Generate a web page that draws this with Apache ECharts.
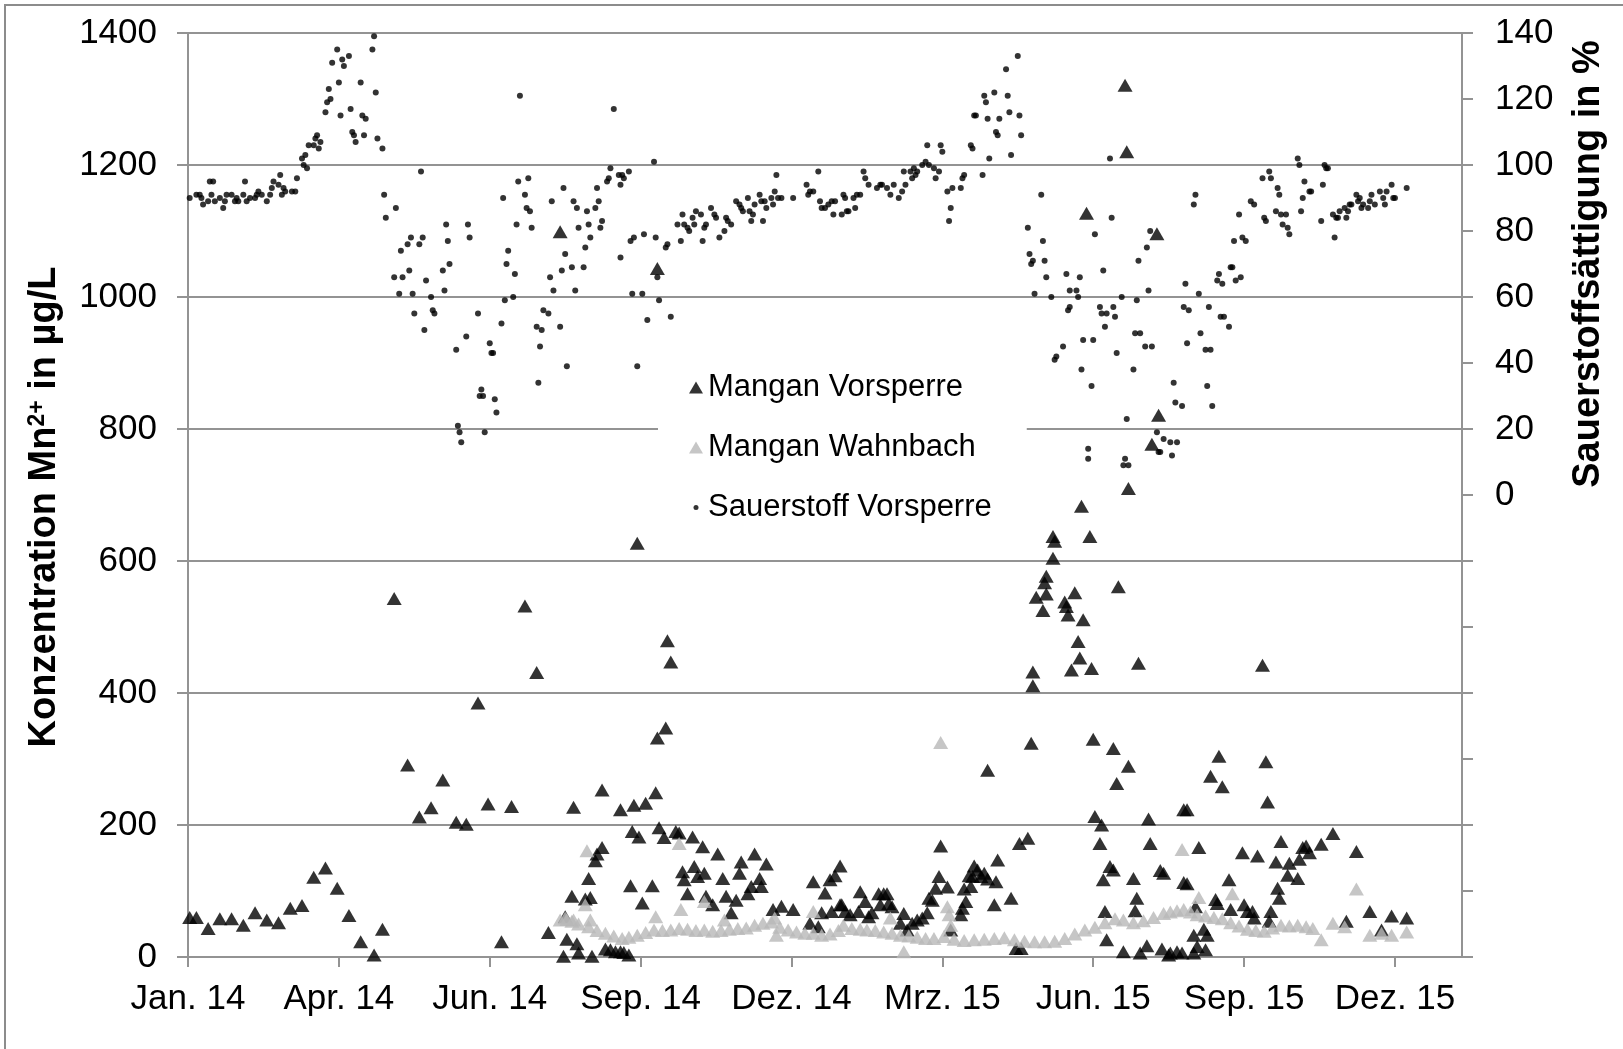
<!DOCTYPE html>
<html>
<head>
<meta http-equiv="Content-Type" content="text/html; charset=UTF-8">
<title>Mangan und Sauerstoff Vorsperre</title>
<script type="text/javascript" src="https://cdn.jsdelivr.net/npm/echarts@6/dist/echarts.min.js"></script>
<style type="text/css">
 html,body{margin:0;padding:0;background:#fff;}
 #mainChart{width:1623px;height:1049px;}
</style>
</head>
<body>
<div id="mainChart"></div>
<script type="text/javascript">
// x-Werte: Tage ab 01.01.2014
var monate = ['Jan.','Feb.','Mrz.','Apr.','Mai','Jun.','Jul.','Aug.','Sep.','Okt.','Nov.','Dez.'];
var xTicks = [0,90,180,270,360,450,540,630,720];

// Mangan Vorsperre [Tag, µg/L]
var mnVorsperre = [
 [1,60],[5,60],[12,43],[19,58],[26,58],[33,48],[40,67],[47,56],[54,52],[61,74],[68,78],[75,121],[82,135],[89,104],[96,63],
 [103,23],[111,3],[116,42],[123,543],[131,291],[138,212],[145,226],[152,268],[160,204],[166,201],[173,385],[179,232],[187,23],[193,228],
 [201,532],[208,431],[215,37],[222,1099],[224,1],[225,61],[226,27],[229,92],[230,227],[232,20],[233,6],[237,88],[239,119],[240,90],
 [241,1],[243,146],[244,156],[247,166],[247,253],[249,12],[252,11],[255,8],[258,8],[258,223],[260,7],[263,3],[264,108],[265,190],
 [266,230],[268,627],[269,182],[271,82],[273,233],[277,108],[279,249],[280,332],[280,1043],[281,196],[284,181],[285,347],[286,479],
 [288,447],[291,190],[293,188],[295,129],[296,117],[298,96],[301,182],[302,137],[304,122],[307,167],[308,127],[309,92],[313,79],
 [316,156],[319,119],[321,92],[324,67],[327,86],[329,127],[330,144],[334,96],[336,107],[338,156],[341,119],[342,107],[345,141],
 [349,72],[354,77],[361,72],[371,51],[373,114],[376,46],[378,67],[380,97],[383,117],[384,69],[386,123],[389,138],[389,79],
 [390,79],[392,69],[395,64],[400,69],[401,99],[404,84],[406,61],[408,67],[412,96],[413,79],[415,96],[417,96],[418,81],[420,76],
 [425,51],[427,66],[429,41],[432,51],[435,56],[438,59],[441,67],[442,89],[444,86],[446,104],[448,122],[449,168],[453,106],[455,41],
 [461,64],[462,74],[463,103],[464,84],[466,123],[467,107],[468,122],[469,138],[471,132],[473,122],[475,127],[477,118],[477,283],
 [481,79],[482,114],[483,147],[491,89],[494,13],[496,172],[497,13],[501,180],[503,324],[504,411],[504,432],[506,545],[510,525],
 [511,567],[512,550],[512,577],[516,604],[516,637],[517,630],[523,538],[524,531],[525,518],[527,435],[529,552],[531,478],[532,453],
 [533,683],[534,511],[536,1127],[538,637],[539,437],[540,330],[541,213],[544,172],[545,200],[546,117],[547,69],[548,26],[550,137],
 [552,132],[552,316],[554,263],[555,561],[558,8],[559,1321],[560,1220],[561,289],[561,710],[564,119],[565,70],[566,89],[567,445],
 [568,6],[572,17],[573,209],[574,172],[575,777],[578,1096],[579,821],[580,131],[581,12],[582,127],[585,3],
 [586,6],[590,8],[593,6],[594,223],[594,113],[596,223],[596,111],[600,6],[600,33],[601,76],[602,16],[603,166],[606,42],[607,11],
 [608,33],[610,274],[613,87],[614,81],[615,304],[617,258],[621,117],[622,72],[629,158],[630,79],[632,69],[635,69],[636,59],[638,153],
 [641,442],[643,296],[644,235],[645,54],[646,69],[649,144],[650,104],[651,89],[652,175],[656,124],[657,142],[662,119],[663,148],
 [665,166],[667,168],[669,158],[676,171],[683,187],[691,54],[697,160],[705,69],[712,41],[718,62],[727,59]
];

// Mangan Wahnbach [Tag, µg/L]
var mnWahnbach = [
 [222,56],[225,59],[226,57],[229,54],[230,56],[233,50],[237,79],[238,161],[239,46],[240,56],[244,40],[249,36],[254,32],[259,28],
 [263,30],[268,33],[273,37],[278,41],[279,61],[283,40],[288,41],[293,43],[293,172],[294,72],[298,42],[303,40],[308,41],[308,84],
 [313,39],[318,40],[320,56],[323,42],[328,43],[333,44],[338,48],[343,51],[348,53],[350,59],[351,33],[353,45],[358,41],[363,38],
 [368,36],[373,36],[373,69],[378,33],[383,35],[388,40],
 [391,48],[396,43],[401,42],[405,41],[410,40],[415,38],[419,59],[420,36],[425,33],[427,8],[430,32],[435,30],[440,28],[445,28],
 [449,325],[451,31],[453,76],[454,64],[455,48],[457,27],[463,25],[469,26],[475,27],[481,28],[487,29],[493,26],[499,24],[505,23],
 [511,23],[517,24],[523,28],[529,35],[535,41],[541,45],[547,52],[553,58],[558,56],[564,52],[570,55],[576,60],[582,66],[586,68],
 [590,70],[593,163],[594,72],[598,68],[602,64],[603,90],[607,62],[612,60],[617,58],[622,52],[623,96],[627,47],[632,42],[637,40],
 [642,39],[647,44],[652,48],[657,47],[662,48],[667,46],[671,43],[676,26],[683,51],[690,46],[697,103],[705,33],[712,36],[718,33],[727,38]
];

// Sauerstoffsättigung Vorsperre [Tag, %]
var o2Vorsperre = [
 [1,90],[5,91],[7,91],[8,90],[9,88],[12,89],[13,95],[14,91],[15,95],[16,89],[19,90],[21,87],[22,89],[23,91],[26,91],[28,89],
 [29,90],[30,89],[33,91],[34,95],[35,89],[37,90],[40,90],[41,91],[42,92],[44,91],[47,89],[49,91],[50,93],[51,95],[54,94],[55,97],
 [56,91],[57,93],[58,92],[62,92],[64,92],[65,96],[68,102],[69,100],[70,103],[71,99],[72,106],[75,106],[76,108],[77,109],[78,105],
 [79,107],[82,116],[83,119],[84,123],[85,120],[86,131],[89,135],[90,125],[91,115],[92,132],[93,130],[96,133],[97,117],[98,110],
 [99,109],[100,107],[103,125],[104,115],[105,109],[106,114],[110,135],[111,139],[112,122],[113,108],[116,105],[117,91],[118,84],
 [123,66],[124,87],[126,61],[127,74],[128,66],[131,76],[132,68],[133,78],[134,61],[135,55],[138,76],[139,98],[140,78],[141,50],
 [142,65],[145,60],[146,56],[147,55],[152,68],[153,62],[154,82],[155,77],[156,70],[160,44],[161,21],[162,19],[163,16],[166,48],
 [167,82],[168,78],[173,55],[174,30],[175,32],[176,30],[177,19],[180,46],[181,43],[182,43],[183,29],[184,25],[187,52],[188,90],
 [189,59],[190,70],[191,74],[194,60],[195,67],[196,82],
 [197,95],[198,121],[201,91],[202,87],[203,96],[204,86],[205,81],[208,51],[209,34],[210,45],[211,50],[212,56],[215,55],[216,66],
 [217,89],[218,62],[222,51],[223,68],[224,93],[225,73],[226,39],[229,69],[230,89],[231,62],[232,87],[233,81],[236,69],[237,75],
 [238,86],[239,82],[240,78],[243,87],[244,93],[245,89],[246,81],[247,83],[250,95],[251,96],[252,99],[254,117],[257,97],[258,94],
 [258,72],[259,97],[260,96],[263,98],[264,77],[265,61],[266,78],[268,39],[271,61],[272,79],[274,53],[278,101],[279,78],[280,66],
 [281,59],[285,75],[286,76],[288,54],[292,82],[294,77],[295,85],[296,82],[298,81],[299,80],[301,84],[302,82],[303,86],[306,85],
 [307,77],[308,81],[309,82],[312,87],[314,85],[315,84],[317,78],[320,80],[321,84],[322,83],[324,82],[327,89],[329,88],[330,87],
 [331,86],[334,90],[335,86],[336,83],[337,85],[338,88],[341,91],[342,89],[343,83],[344,89],[345,87],[348,90],[349,88],[350,92],
 [351,97],[352,90],[354,90],[361,90],[369,94],[370,91],[371,92],[373,92],[376,98],[377,89],[378,87],[380,87],[382,88],[384,89],
 [385,85],[386,89],[390,85],[391,91],
 [392,90],[393,86],[394,86],[397,90],[398,87],[399,91],[401,91],[403,98],[404,96],[406,94],[411,93],[413,94],[414,94],[417,93],
 [419,91],[421,94],[424,90],[426,92],[427,98],[428,94],[431,98],[432,96],[433,99],[434,97],[435,98],[438,100],[440,101],[441,106],
 [442,100],[445,99],[446,96],[448,98],[449,106],[450,104],[453,92],[454,83],[455,87],[456,93],[461,93],[462,96],[463,97],[467,106],
 [468,105],[469,115],[470,115],[474,97],[475,121],[476,119],[477,114],[478,102],[481,122],[482,110],[483,109],[484,114],[488,129],
 [489,121],[490,116],[491,103],[495,133],[496,115],[497,109],[501,81],[502,73],[503,70],[504,71],[505,61],[509,91],[510,77],[511,71],
 [512,66],[515,60],[517,41],[518,42],[522,45],[524,67],[525,56],[526,57],[526,62],[530,62],[531,60],[532,66],[533,38],[534,47],
 [537,14],[537,11],[539,33],[540,47],[541,79],[544,57],[545,55],[546,68],[547,51],[548,55],[550,102],[551,84],[552,57],[553,54],
 [554,43],[557,60],[558,9],[559,11],[560,23],[561,9],[564,38],[565,49],[566,59],[567,71],[568,49],[571,45],[572,75],[573,62],
 [574,80],[575,45],[578,19],[579,13],[580,13],[582,17],
 [586,16],[587,12],[588,34],[589,28],[590,16],[593,27],[594,57],[595,64],[596,46],[597,56],[600,88],[601,91],[603,61],[604,49],
 [607,44],[608,33],[609,57],[610,44],[611,27],[614,65],[615,67],[616,54],[617,64],[618,54],[621,51],[622,69],[623,69],[624,77],
 [625,65],[627,85],[628,66],[629,78],[631,77],[634,89],[636,88],[641,96],[642,84],[643,83],[645,98],[646,96],[649,86],[650,93],
 [651,91],[652,85],[653,82],[655,85],[656,81],[657,79],[662,102],[663,100],[664,86],[665,90],[666,95],[669,92],[670,92],[676,83],
 [677,94],[678,100],[679,99],[680,99],[683,85],[684,78],[685,84],[686,84],[687,86],[690,87],[691,84],[692,86],[693,88],[694,88],
 [697,91],[698,89],[699,90],[700,87],[701,88],[704,87],[705,89],[706,91],[708,88],[711,92],[713,90],[714,88],[715,92],[718,94],
 [719,90],[720,90],[727,93]
];

var schrift = '"Liberation Sans", Arial, sans-serif';
var grau = '#939393';
// kleiner Punkt fuer die Legende (Rahmenpunkte halten die Groesse)
var punktIcon = 'path://M0,0M14,0M14,12M0,12M4.5,6a2.5,2.5 0 1,0 5,0a2.5,2.5 0 1,0 -5,0z';

var myChart = echarts.init(document.getElementById('mainChart'));
var option = {
    animation: false,
    backgroundColor: '#fff',
    grid: {left: 188, right: 161, top: 33, bottom: 92, containLabel: false, outerBoundsMode: 'none'},
    legend: {
        orient: 'vertical',
        left: 658,
        top: 364,
        backgroundColor: '#fff',
        padding: [8, 35, 8, 31],
        itemGap: 29,
        itemWidth: 14,
        itemHeight: 12,
        selectedMode: false,
        textStyle: {fontSize: 31, fontFamily: schrift, color: '#000'},
        data: [
            {name: 'Mangan Vorsperre', icon: 'triangle'},
            {name: 'Mangan Wahnbach', icon: 'triangle'},
            {name: 'Sauerstoff Vorsperre', icon: punktIcon}
        ]
    },
    xAxis: {
        type: 'value',
        min: 0,
        max: 760,
        interval: 90,
        axisLine: {show: true, lineStyle: {color: grau, width: 2}},
        axisTick: {show: true, length: 10, lineStyle: {color: grau, width: 2}, customValues: xTicks},
        splitLine: {show: false},
        axisLabel: {
            customValues: xTicks,
            fontSize: 35, fontFamily: schrift, color: '#000', margin: 25,
            formatter: function (v) {
                var d = new Date(2014, 0, 1 + v);
                return monate[d.getMonth()] + ' ' + String(d.getFullYear()).slice(2);
            }
        }
    },
    yAxis: [
        {
            type: 'value',
            min: 0, max: 1400, interval: 200,
            name: 'Konzentration Mn{sup|2+} in µg/L',
            nameLocation: 'middle',
            nameGap: 124,
            nameTextStyle: {
                fontSize: 38, fontWeight: 'bold', fontFamily: schrift, color: '#000',
                padding: [0, 24, 0, 0],
                rich: {sup: {fontSize: 23, fontWeight: 'bold', fontFamily: schrift, color: '#000', verticalAlign: 'top'}}
            },
            axisLine: {show: true, lineStyle: {color: grau, width: 2}},
            axisTick: {show: true, length: 11, lineStyle: {color: grau, width: 2}},
            splitLine: {show: true, lineStyle: {color: grau, width: 2}},
            axisLabel: {
                fontSize: 35, fontFamily: schrift, color: '#000', margin: 31,
                formatter: function (v) { return String(v); }
            }
        },
        {
            type: 'value',
            position: 'right',
            min: -140, max: 140, interval: 20,
            axisLine: {show: true, lineStyle: {color: grau, width: 2}},
            axisTick: {show: true, length: 11, lineStyle: {color: grau, width: 2}},
            splitLine: {show: false},
            axisLabel: {
                fontSize: 35, fontFamily: schrift, color: '#000', margin: 33,
                formatter: function (v) { return v < 0 ? '' : String(v); }
            }
        }
    ],
    graphic: [
        {
            type: 'rect', silent: true, z: 100,
            shape: {x: 5, y: 5, width: 1700, height: 1200},
            style: {fill: 'none', stroke: '#8c8c8c', lineWidth: 2}
        },
        {
            type: 'text', silent: true,
            x: 1589, y: 264, rotation: Math.PI / 2,
            style: {text: 'Sauerstoffsättigung in %', font: 'bold 38px ' + schrift, fill: '#000', align: 'center', verticalAlign: 'middle'}
        }
    ],
    series: [
        {
            name: 'Mangan Vorsperre', type: 'scatter', yAxisIndex: 0,
            symbol: 'triangle', symbolSize: [15, 13],
            itemStyle: {color: '#000'},
            emphasis: {disabled: true},
            data: mnVorsperre
        },
        {
            name: 'Mangan Wahnbach', type: 'scatter', yAxisIndex: 0,
            symbol: 'triangle', symbolSize: [15, 13],
            itemStyle: {color: '#b8b8b8'},
            emphasis: {disabled: true},
            data: mnWahnbach
        },
        {
            name: 'Sauerstoff Vorsperre', type: 'scatter', yAxisIndex: 1,
            symbol: 'circle', symbolSize: 6,
            itemStyle: {color: '#000'},
            emphasis: {disabled: true},
            data: o2Vorsperre
        }
    ]
};
myChart.setOption(option);
</script>
</body>
</html>
